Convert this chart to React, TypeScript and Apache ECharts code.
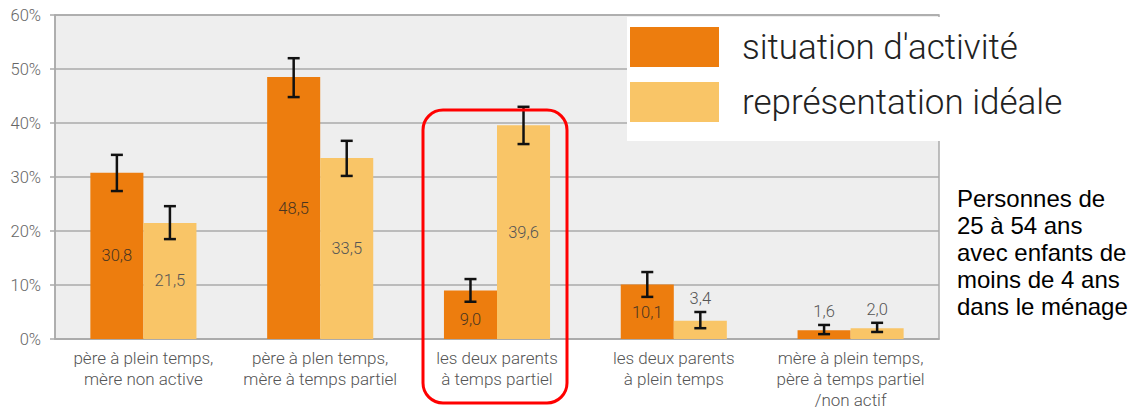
import React, { useEffect, useRef } from "react";
import * as echarts from "echarts";

const categories = [
  "père à plein temps,\nmère non active",
  "père à plen temps,\nmère à temps partiel",
  "les deux parents\nà temps partiel",
  "les deux parents\nà plein temps",
  "mère à plein temps,\npère à temps partiel\n/non actif",
];
const seriesNames = ["situation d'activité", "représentation idéale"];
const activite = [30.8, 48.5, 9.0, 10.1, 1.6];
const ideale = [21.5, 33.5, 39.6, 3.4, 2.0];
const activiteLow = [27.4, 44.8, 6.9, 7.8, 0.9];
const activiteHigh = [34.1, 52.0, 11.1, 12.4, 2.6];
const idealeLow = [18.5, 30.2, 36.1, 2.0, 1.3];
const idealeHigh = [24.6, 36.7, 43.0, 5.0, 3.0];
const labelAbove = [false, false, false, false, true];
const labelAboveIdeale = [false, false, false, true, true];
const yTicks = [0, 10, 20, 30, 40, 50, 60];
const noteLines = [
  "Personnes de",
  "25 à 54 ans",
  "avec enfants de",
  "moins de 4 ans",
  "dans le ménage",
];

const ORANGE = "#ED7D0E";
const LIGHT = "#F9C567";
const fmt = (v: number) => v.toFixed(1).replace(".", ",");

export default function App() {
  const ref = useRef<HTMLDivElement>(null);
  useEffect(() => {
    if (!ref.current) return;
    const chart = echarts.init(ref.current, null, { renderer: "svg" });

    const mkData = (vals: number[], above: boolean[], dist: number[], insideOffset: number[]) =>
      vals.map((v, i) =>
        above[i]
          ? {
              value: v,
              label: {
                position: "top",
                distance: dist[i],
                color: "#555",
              },
            }
          : { value: v, label: { offset: [0, insideOffset[i]] } }
      );

    const errData = (lo: number[], hi: number[], side: number) =>
      lo.map((l, i) => [i, l, hi[i], side]);

    const renderErr = (params: any, api: any) => {
      const x = api.value(0);
      const lo = api.value(1);
      const hi = api.value(2);
      const side = api.value(3);
      const pHi = api.coord([x, hi]);
      const pLo = api.coord([x, lo]);
      const band = api.size([1, 0])[0];
      const cx = pHi[0] + side * band * 0.15;
      const w = 6;
      const style = { stroke: "#111", lineWidth: 2.5 };
      return {
        type: "group",
        children: [
          { type: "line", shape: { x1: cx, y1: pHi[1], x2: cx, y2: pLo[1] }, style },
          { type: "line", shape: { x1: cx - w, y1: pHi[1], x2: cx + w, y2: pHi[1] }, style },
          { type: "line", shape: { x1: cx - w, y1: pLo[1], x2: cx + w, y2: pLo[1] }, style },
        ],
      };
    };

    const labelFont = {
      fontFamily: "Roboto",
      fontWeight: 300,
      fontSize: 16.5,
    };

    chart.setOption({
      animation: false,
      grid: {
        left: 55,
        right: 197,
        top: 15,
        bottom: 71,
        show: true,
        containLabel: false,
        outerBoundsMode: "none",
        backgroundColor: "#eeeeee",
        borderColor: "#aaaaaa",
        borderWidth: 1.5,
      },
      legend: {
        orient: "vertical",
        left: 630,
        top: 27,
        padding: 0,
        itemWidth: 89,
        itemHeight: 40,
        itemGap: 15,
        icon: "rect",
        data: seriesNames,
        textStyle: {
          fontFamily: "Roboto",
          fontWeight: 300,
          fontSize: 35,
          color: "#222",
          padding: [0, 0, 0, 18],
        },
        z: 10,
      },
      xAxis: {
        type: "category",
        data: categories,
        axisLine: { lineStyle: { color: "#aaaaaa", width: 1.5 } },
        axisTick: { show: false },
        axisLabel: {
          interval: 0,
          margin: 8,
          color: "#555",
          fontFamily: "Roboto",
          fontWeight: 300,
          fontSize: 17,
          lineHeight: 21,
        },
      },
      yAxis: {
        type: "value",
        min: yTicks[0],
        max: yTicks[yTicks.length - 1],
        interval: 10,
        axisLine: { show: true, lineStyle: { color: "#aaaaaa", width: 1.5 } },
        axisTick: { show: true, length: 5, lineStyle: { color: "#aaaaaa", width: 1.5 } },
        splitLine: { lineStyle: { color: "#aaaaaa", width: 1.5 } },
        axisLabel: {
          formatter: "{value}%",
          margin: 14,
          color: "#666",
          fontFamily: "Roboto",
          fontWeight: 300,
          fontSize: 16.5,
        },
      },
      series: [
        {
          name: seriesNames[0],
          type: "bar",
          barWidth: "30%",
          barGap: "0%",
          itemStyle: { color: ORANGE },
          data: mkData(activite, labelAbove, [10, 10, 10, 10, 10], [0, 0, 5, 1, 0]),
          label: {
            show: true,
            position: "inside",
            color: "#4a3520",
            ...labelFont,
            formatter: (p: any) => fmt(p.value),
          },
        },
        {
          name: seriesNames[1],
          type: "bar",
          barWidth: "30%",
          barGap: "0%",
          itemStyle: { color: LIGHT },
          data: mkData(ideale, labelAboveIdeale, [10, 10, 10, 14, 10.5], [0, 0, 0, 0, 0]),
          label: {
            show: true,
            position: "inside",
            color: "#555",
            ...labelFont,
            formatter: (p: any) => fmt(p.value),
          },
        },
        {
          type: "custom",
          renderItem: renderErr,
          data: errData(activiteLow, activiteHigh, -1),
          encode: { x: 0, y: [1, 2] },
          z: 5,
          silent: true,
        },
        {
          type: "custom",
          renderItem: renderErr,
          data: errData(idealeLow, idealeHigh, 1),
          encode: { x: 0, y: [1, 2] },
          z: 5,
          silent: true,
        },
      ],
      graphic: [
        {
          type: "rect",
          shape: { x: 627, y: 17, width: 314, height: 124 },
          style: { fill: "#ffffff" },
          z: 8,
        },
        {
          type: "rect",
          shape: { x: 423, y: 110, width: 144, height: 293, r: 20 },
          style: { fill: "none", stroke: "#ff0000", lineWidth: 3 },
          z: 20,
        },
        {
          type: "text",
          x: 957,
          y: 185,
          style: {
            text: noteLines.join("\n"),
            fontFamily: "Liberation Sans",
            fontSize: 24,
            lineHeight: 27,
            fill: "#000",
          },
          z: 20,
        },
      ],
    });
    return () => chart.dispose();
  }, []);
  return (
    <div
      ref={ref}
      style={{ position: "absolute", left: 0, top: 0, width: 1136, height: 410 }}
    />
  );
}
